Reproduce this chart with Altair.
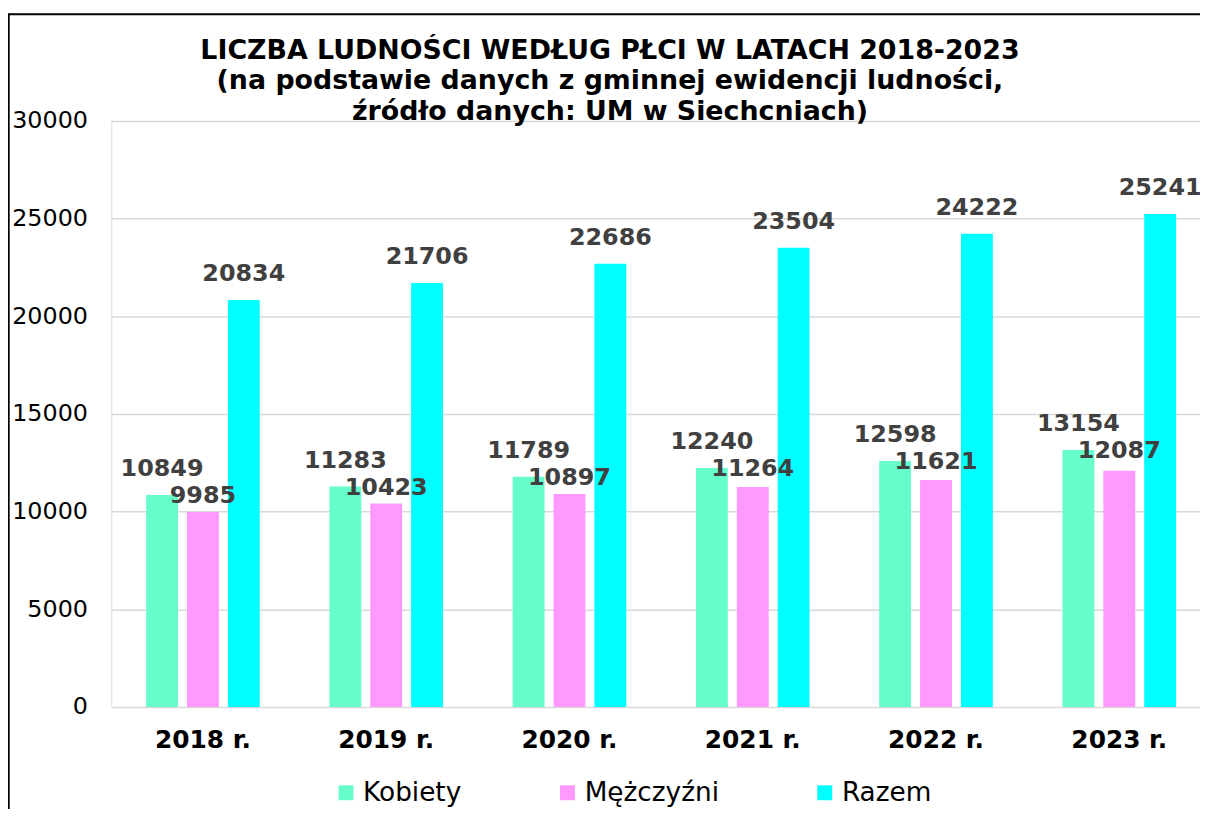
import altair as alt
import pandas as pd

years = ["2018 r.", "2019 r.", "2020 r.", "2021 r.", "2022 r.", "2023 r."]
series = ["Kobiety", "Mężczyźni", "Razem"]
kobiety = [10849, 11283, 11789, 12240, 12598, 13154]
mezczyzni = [9985, 10423, 10897, 11264, 11621, 12087]
razem = [20834, 21706, 22686, 23504, 24222, 25241]
colors = ["#66FFCC", "#FF99FF", "#00FFFF"]
y_ticks = [0, 5000, 10000, 15000, 20000, 25000, 30000]
title_lines = [
    "LICZBA LUDNOŚCI WEDŁUG PŁCI W LATACH 2018-2023",
    "(na podstawie danych z gminnej ewidencji ludności,",
    "źródło danych: UM w Siechcniach)",
]

rows = []
for i, yr in enumerate(years):
    for s, vals in zip(series, [kobiety, mezczyzni, razem]):
        rows.append({
            "year": yr,
            "series": s,
            "value": vals[i],
            # Mężczyźni labels sit just below the Kobiety label (overlap avoidance)
            "anchor": kobiety[i] if s == "Mężczyźni" else vals[i],
        })
df = pd.DataFrame(rows)
one = pd.DataFrame({"k": [0]})

FONT = "DejaVu Sans"

x_enc = alt.X(
    "year:N", sort=years, title=None,
    scale=alt.Scale(paddingInner=0.38, paddingOuter=0.19),
    axis=alt.Axis(labelFontSize=25, labelFontWeight="bold", labelColor="black",
                  labelPadding=21, ticks=False, tickSize=0, domain=False,
                  labelAngle=0, grid=False, labelFont=FONT),
)
xo_enc = alt.XOffset("series:N", sort=series,
                     scale=alt.Scale(paddingInner=0.22, paddingOuter=0))
y_scale = alt.Scale(domain=[0, 30000], nice=False)

bars = alt.Chart(df).mark_bar().encode(
    x=x_enc,
    xOffset=xo_enc,
    y=alt.Y("value:Q", scale=y_scale, title=None,
            axis=alt.Axis(values=y_ticks, format="d", labelFontSize=24,
                          labelColor="black", labelPadding=24, ticks=False,
                          tickSize=0, domain=False, grid=True,
                          gridColor="#D9D9D9", gridWidth=1.5, labelFont=FONT)),
    color=alt.Color("series:N", sort=series,
                    scale=alt.Scale(domain=series, range=colors),
                    legend=alt.Legend(title=None, orient="none", legendX=223, legendY=663,
                                      direction="horizontal", symbolType="square",
                                      symbolSize=225, symbolStrokeWidth=0,
                                      labelFontSize=26.5, labelColor="black",
                                      labelFont=FONT, labelOffset=4,
                                      columnPadding=93)),
)

lab_common = dict(fontWeight="bold", fontSize=24, color="#404040",
                  baseline="middle", align="center", font=FONT)

labels_main = alt.Chart(df).transform_filter(
    alt.datum.series != "Mężczyźni"
).mark_text(dy=-26, **lab_common).encode(
    x=alt.X("year:N", sort=years),
    xOffset=alt.XOffset("series:N", sort=series),
    y=alt.Y("value:Q", scale=y_scale),
    text=alt.Text("value:Q", format="d"),
)

labels_m = alt.Chart(df).transform_filter(
    alt.datum.series == "Mężczyźni"
).mark_text(dy=1, **lab_common).encode(
    x=alt.X("year:N", sort=years),
    xOffset=alt.XOffset("series:N", sort=series),
    y=alt.Y("anchor:Q", scale=y_scale),
    text=alt.Text("value:Q", format="d"),
)

title = alt.Chart(one).mark_text(
    text=title_lines, fontSize=27, fontWeight="bold", font=FONT, color="black",
    align="center", baseline="alphabetic", lineHeight=30.5,
).encode(x=alt.value(502), y=alt.value(-62.3))

border_left = alt.Chart(one).mark_rule(color="black", strokeWidth=2).encode(
    x=alt.value(-103.3), y=alt.value(-108), y2=alt.value(800))
border_top = alt.Chart(one).mark_rule(color="black", strokeWidth=2).encode(
    x=alt.value(-104.3), x2=alt.value(1200), y=alt.value(-107.3))

chart = alt.layer(bars, labels_main, labels_m, title, border_left, border_top).properties(
    width=1107, height=590,
    padding={"left": 104, "top": 111, "right": -11, "bottom": 100},
    autosize=alt.AutoSizeParams(type="none"),
).configure_view(stroke=None).configure(font=FONT)

chart.save("out.html", embed_options={"renderer": "svg", "actions": False})
